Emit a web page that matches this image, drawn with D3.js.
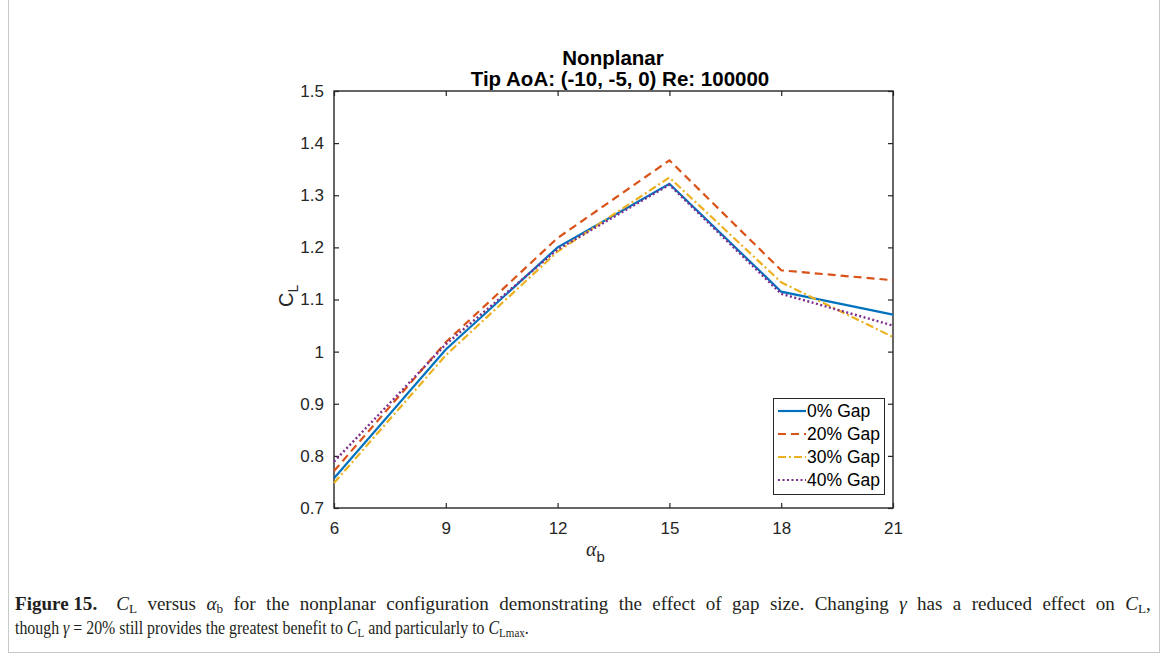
<!DOCTYPE html>
<html><head><meta charset="utf-8">
<script src="https://cdn.jsdelivr.net/npm/d3@7"></script>
<style>body{margin:0;background:#fff;} svg{display:block;}</style>
</head><body>
<svg id="c" width="1167" height="668"></svg>
<script>
const alphaB = [6, 9, 12, 15, 18, 21];
const gap0  = [0.757, 1.004, 1.200, 1.322, 1.115, 1.071];
const gap20 = [0.771, 1.018, 1.218, 1.367, 1.156, 1.137];
const gap30 = [0.748, 0.993, 1.192, 1.334, 1.133, 1.028];
const gap40 = [0.789, 1.014, 1.196, 1.320, 1.111, 1.050];
const seriesNames = ["0% Gap", "20% Gap", "30% Gap", "40% Gap"];
const xTicks = [6, 9, 12, 15, 18, 21];
const yTicks = [0.7, 0.8, 0.9, 1, 1.1, 1.2, 1.3, 1.4, 1.5];

const colors = ["#0072BD", "#D95319", "#EDB120", "#7E2F8E"];
const dashes = [null, "8,5", "8,3,2,3", "2,2.5"];
const allSeries = [gap0, gap20, gap30, gap40];

const svg = d3.select("#c");
svg.append("rect").attr("x", 8.5).attr("y", -2).attr("width", 1151).attr("height", 654.5)
  .attr("fill", "none").attr("stroke", "#c8c8c8").attr("stroke-width", 1);

const L = 334, R = 893, T = 91, B = 508;
const x = d3.scaleLinear().domain([6, 21]).range([L, R]);
const y = d3.scaleLinear().domain([0.7, 1.5]).range([B, T]);

const g = svg.append("g");
const font = "'Liberation Sans', Arial, Helvetica, sans-serif";

const axB = d3.axisBottom(x).tickValues(xTicks).tickSize(-5).tickPadding(14).tickFormat(d3.format("d"));
const axT = d3.axisTop(x).tickValues(xTicks).tickSize(-5).tickFormat("");
const axL = d3.axisLeft(y).tickValues(yTicks).tickSize(-5).tickPadding(10).tickFormat(d => d === 1 ? "1" : d3.format(".1f")(d));
const axR = d3.axisRight(y).tickValues(yTicks).tickSize(-5).tickFormat("");

function style(sel) {
  sel.select(".domain").remove();
  sel.selectAll(".tick line").attr("stroke", "#262626").attr("stroke-width", 1.2);
  sel.selectAll(".tick text").attr("fill", "#262626").style("font-family", font).style("font-size", "17px");
}
g.append("g").attr("transform", `translate(0,${B})`).call(axB).call(style);
g.append("g").attr("transform", `translate(0,${T})`).call(axT).call(style);
g.append("g").attr("transform", `translate(${L},0)`).call(axL).call(style);
g.append("g").attr("transform", `translate(${R},0)`).call(axR).call(style);
g.append("rect").attr("x", L).attr("y", T).attr("width", R - L).attr("height", B - T)
  .attr("fill", "none").attr("stroke", "#262626").attr("stroke-width", 1.4);

const line = d3.line().x((d, i) => x(alphaB[i])).y(d => y(d));
allSeries.forEach((s, k) => {
  g.append("path").datum(s).attr("d", line).attr("fill", "none")
    .attr("stroke", colors[k]).attr("stroke-width", k === 3 ? 2.4 : 2.2)
    .attr("stroke-dasharray", dashes[k]).attr("stroke-linejoin", "miter");
});

g.append("text").attr("x", 613).attr("y", 65).attr("text-anchor", "middle")
  .style("font-family", font).style("font-weight", "bold").style("font-size", "20.5px").attr("fill", "#000").text("Nonplanar");
g.append("text").attr("x", 620).attr("y", 86).attr("text-anchor", "middle")
  .style("font-family", font).style("font-weight", "bold").style("font-size", "20.5px").attr("fill", "#000").text("Tip AoA: (-10, -5, 0) Re: 100000");

const xl = g.append("text").attr("x", 586).attr("y", 556).attr("fill", "#262626");
xl.append("tspan").style("font-family", "'Liberation Serif', 'DejaVu Serif', serif").style("font-style", "italic").style("font-size", "20px").text("α");
xl.append("tspan").attr("dy", 6).style("font-family", font).style("font-size", "15px").text("b");

const yl = g.append("text").attr("transform", "translate(293,307) rotate(-90)").attr("fill", "#262626");
yl.append("tspan").style("font-family", font).style("font-size", "20px").text("C");
yl.append("tspan").attr("dy", 5).style("font-family", font).style("font-size", "14px").text("L");

const lg = g.append("g");
lg.append("rect").attr("x", 773.5).attr("y", 398.5).attr("width", 111).attr("height", 96)
  .attr("fill", "#fff").attr("stroke", "#262626").attr("stroke-width", 1);
seriesNames.forEach((n, k) => {
  const yy = 411 + k * 23;
  lg.append("line").attr("x1", 778).attr("x2", 806).attr("y1", yy).attr("y2", yy)
    .attr("stroke", colors[k]).attr("stroke-width", 2.2).attr("stroke-dasharray", dashes[k]);
  lg.append("text").attr("x", 807).attr("y", yy + 6).style("font-family", font).style("font-size", "17.5px")
    .attr("fill", "#000").text(n);
});

// caption
const serif = "'Liberation Serif', 'Times New Roman', serif";
function sub(t, s) { t.append("tspan").attr("dy", 3).style("font-size", "12.5px").text(s); }
function mk(build) {
  const t = svg.append("text").attr("x", 0).attr("y", 0).style("font-family", serif)
    .style("font-size", "18px").attr("fill", "#231f20");
  build(t);
  return t;
}
const c1 = mk(t => {
  t.append("tspan").style("font-weight", "bold").text("Figure\u00a015.");
  t.append("tspan").text("\u2002\u2002");
  t.append("tspan").style("font-style", "italic").text("C");
  sub(t, "L");
  t.append("tspan").attr("dy", -3).text(" versus ");
  t.append("tspan").style("font-style", "italic").text("α");
  sub(t, "b");
  t.append("tspan").attr("dy", -3).text(" for the nonplanar configuration demonstrating the effect of gap size. Changing ");
  t.append("tspan").style("font-style", "italic").text("γ");
  t.append("tspan").text(" has a reduced effect on ");
  t.append("tspan").style("font-style", "italic").text("C");
  sub(t, "L");
  t.append("tspan").attr("dy", -3).text(",");
});
const c2 = mk(t => {
  t.append("tspan").text("though ");
  t.append("tspan").style("font-style", "italic").text("γ");
  t.append("tspan").text(" = 20% still provides the greatest benefit to ");
  t.append("tspan").style("font-style", "italic").text("C");
  sub(t, "L");
  t.append("tspan").attr("dy", -3).text(" and particularly to ");
  t.append("tspan").style("font-style", "italic").text("C");
  sub(t, "Lmax");
  t.append("tspan").attr("dy", -3).text(".");
});
c1.select("tspan").style("word-spacing", "0px");
const w2 = c2.node().getBBox().width;
const s2 = 514 / w2;
c2.attr("transform", `translate(15,634) scale(${s2},1)`);
const w1 = c1.node().getBBox().width;
const s1 = Math.min(1137 / w1, s2 * 1.2);
const nSpaces = (c1.text().match(/ /g) || []).length;
const extra = Math.max(0, (1137 / s1 - w1) / nSpaces);
c1.style("word-spacing", extra + "px");
c1.select("tspan").style("word-spacing", "0px");
c1.attr("transform", `translate(15,610) scale(${s1},1)`);
</script>
</body></html>
